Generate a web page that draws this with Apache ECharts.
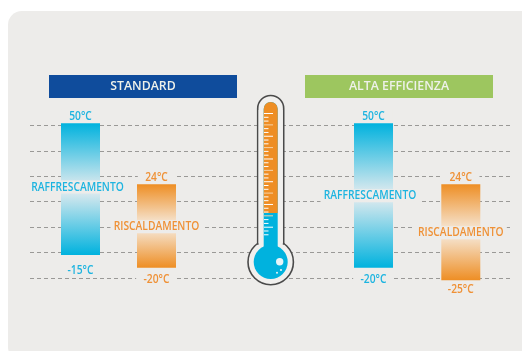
<!DOCTYPE html>
<html><head><meta charset="utf-8">
<style>html,body{margin:0;padding:0;background:#fff}#c{width:522px;height:351px}</style>
<script src="https://cdn.jsdelivr.net/npm/echarts@6/dist/echarts.min.js"></script>
</head><body><div id="c"></div>
<script>
// Data
const panelTitles = ['STANDARD', 'ALTA EFFICIENZA'];
const coolingName = 'RAFFRESCAMENTO';
const heatingName = 'RISCALDAMENTO';
const standardCooling = [50, -15];
const standardHeating = [24, -20];
const efficientCooling = [50, -20];
const efficientHeating = [24, -25];
const guideLevels = ['', '', '', '', '', '', ''];

// Style and layout
const FONT = '600 12.5px "Open Sans",sans-serif';
const BLUE = '#00b2de', ORANGE = '#ee8e24', PANEL = '#edecea';
const BLUE_TXT = '#1db4e0', ORANGE_TXT = '#ef9136';
const barTop = 123.3, barAreaH = 157;
const bars = [
  {d: standardCooling, name: coolingName, left: 61, axis: [-27.5, 50], c: BLUE, t: BLUE_TXT, mid: '#e6ecef', nameX: -3, nameY: 187, gap: 15},
  {d: standardHeating, name: heatingName, left: 137, axis: [-26.65, 56.2], c: ORANGE, t: ORANGE_TXT, mid: '#f6ece0', nameX: 0, nameY: 226.7, gap: 11.3},
  {d: efficientCooling, name: coolingName, left: 354, axis: [-26.1, 50], c: BLUE, t: BLUE_TXT, mid: '#e6ecef', nameX: -3.5, nameY: 195.7, gap: 11.3},
  {d: efficientHeating, name: heatingName, left: 441.3, axis: [-25, 55.1], c: ORANGE, t: ORANGE_TXT, mid: '#f6ece0', nameX: 0, nameY: 232.7, gap: 9.4}
];

const grids = [{left: 30, right: 10, top: 125.3, height: 152.7}];
const xAxes = [{gridIndex: 0, type: 'category', data: [''], show: false}];
const yAxes = [{
  gridIndex: 0, type: 'category', data: guideLevels, boundaryGap: false,
  axisLine: {show: false}, axisTick: {show: false}, axisLabel: {show: false},
  splitLine: {show: true, lineStyle: {color: '#9a9997', width: 1, type: [4, 3]}}
}];
const series = [{type: 'line', xAxisIndex: 0, yAxisIndex: 0, data: [], silent: true}];

bars.forEach((b, i) => {
  const n = i + 1;
  grids.push({left: b.left, width: 39, top: barTop, height: barAreaH});
  xAxes.push({gridIndex: n, type: 'category', data: [b.name], show: false});
  yAxes.push({gridIndex: n, type: 'value', min: b.axis[0], max: b.axis[1], show: false, splitLine: {show: false}});
  series.push({
    type: 'custom', xAxisIndex: n, yAxisIndex: n, z: 3, silent: true,
    encode: {x: 0, y: [1, 2]},
    data: [[0, b.d[0], b.d[1]]],
    renderItem(params, api) {
      const cs = params.coordSys;
      const top = api.coord([0, api.value(1)])[1];
      const bot = api.coord([0, api.value(2)])[1];
      const cx = cs.x + cs.width / 2;
      const txt = (text, x, y, pad) => ({
        type: 'text', z2: 5, x, y, scaleX: 0.82,
        style: {text, x: 0, y: 0, fill: b.t, font: FONT, align: 'center', verticalAlign: 'middle',
                backgroundColor: PANEL, padding: pad}
      });
      return {type: 'group', children: [
        {type: 'rect', shape: {x: cs.x, y: top, width: cs.width, height: bot - top},
         style: {fill: new echarts.graphic.LinearGradient(0, 0, 0, 1, [
           {offset: 0, color: b.c}, {offset: 0.5, color: b.mid}, {offset: 1, color: b.c}])}},
        txt(b.name, cx + b.nameX, b.nameY, [0, 4]),
        txt(api.value(1) + '°C', cx, top - 7, [0, 9]),
        txt(api.value(2) + '°C', cx, bot + b.gap, [0, 9])
      ]};
    }
  });
});

const ticks = [];
for (let k = 0; k < 33; k++) {
  const long = k % 3 === 0;
  const w = long ? 9 : 4.5;
  ticks.push({type: 'rect', z: 12, shape: {x: 264, y: 113 + k * 3.79, width: w, height: 1},
    style: {fill: long && k % 6 ? '#f6d3a8' : '#ffffff'}});
}
const headerBar = (text, x, fill) => ({
  type: 'rect', z: 2, shape: {x, y: 75, width: 188, height: 23}, style: {fill},
  textContent: {style: {text, fill: '#eef1ea', font: '600 12.3px "Open Sans",sans-serif'}, z: 3},
  textConfig: {position: 'inside'}
});
const graphic = [
  {type: 'rect', z: -10, silent: true, shape: {x: 8, y: 11, width: 530, height: 350, r: 14}, style: {fill: PANEL}},
  headerBar(panelTitles[0], 49, '#0f4c9c'),
  headerBar(panelTitles[1], 305, '#9dc65f'),
  {type: 'circle', z: 10, shape: {cx: 270.7, cy: 262, r: 22.7}, style: {fill: '#f1f0ee', stroke: '#4a4a4a', lineWidth: 1.6}},
  {type: 'rect', z: 10, shape: {x: 257.7, y: 95.5, width: 26, height: 148.5, r: [13, 13, 0, 0]}, style: {fill: '#f1f0ee', stroke: '#4a4a4a', lineWidth: 1.6}},
  {type: 'rect', z: 10, shape: {x: 258.6, y: 110, width: 24.2, height: 143}, style: {fill: '#f1f0ee'}},
  {type: 'circle', z: 11, shape: {cx: 270.7, cy: 262, r: 17}, style: {fill: BLUE}},
  {type: 'rect', z: 11, shape: {x: 263.7, y: 102, width: 14, height: 155, r: [7, 7, 0, 0]}, style: {fill: BLUE}},
  {type: 'rect', z: 11, shape: {x: 263.7, y: 102, width: 14, height: 111, r: [7, 7, 0, 0]}, style: {fill: ORANGE}},
  ...ticks,
  {type: 'circle', z: 12, shape: {cx: 279.7, cy: 261.7, r: 3.7}, style: {fill: '#e6f4f8'}},
  {type: 'circle', z: 12, shape: {cx: 281, cy: 270, r: 1.1}, style: {fill: '#e6f4f8'}},
  {type: 'circle', z: 12, shape: {cx: 277, cy: 272.7, r: 1}, style: {fill: '#e6f4f8'}}
];

const chart = echarts.init(document.getElementById('c'), null, {renderer: 'canvas'});
chart.setOption({animation: false, backgroundColor: 'transparent', grid: grids, xAxis: xAxes, yAxis: yAxes, series, graphic});
</script></body></html>
